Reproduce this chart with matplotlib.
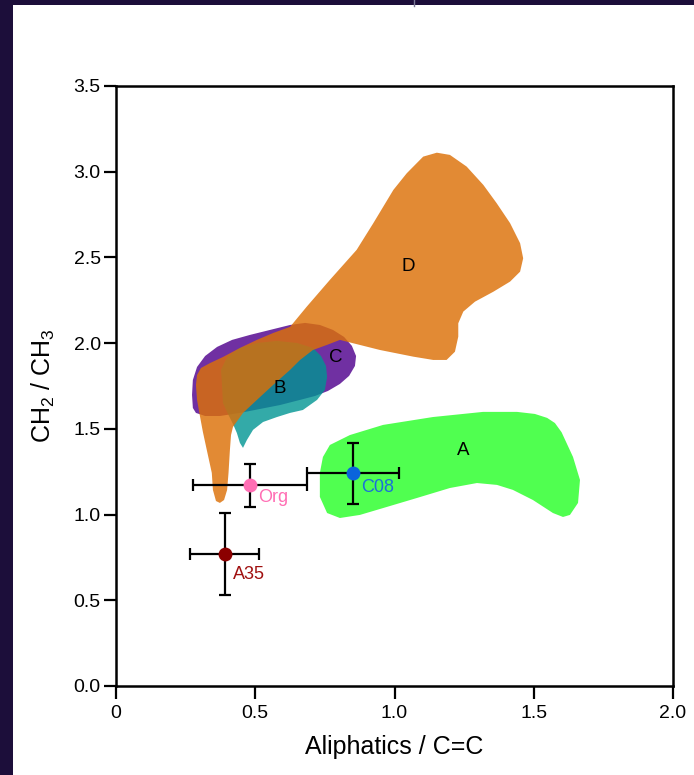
import matplotlib
matplotlib.use("Agg")
import matplotlib.pyplot as plt
from matplotlib.patches import Polygon, Rectangle
from matplotlib.lines import Line2D

# Region outlines (Aliphatics / C=C, CH2 / CH3)
region_a_x = [0.732, 0.743, 0.768, 0.840, 0.959, 1.138, 1.318, 1.440, 1.504, 1.548,
              1.576, 1.600, 1.641, 1.666, 1.659, 1.630, 1.605, 1.569, 1.497, 1.425,
              1.368, 1.296, 1.199, 1.081, 0.959, 0.876, 0.804, 0.758, 0.732]
region_a_y = [1.243, 1.336, 1.406, 1.464, 1.523, 1.569, 1.599, 1.599, 1.587, 1.564,
              1.534, 1.480, 1.336, 1.202, 1.068, 0.998, 0.986, 1.009, 1.085, 1.144,
              1.173, 1.184, 1.155, 1.097, 1.038, 0.998, 0.980, 1.009, 1.103]

region_c_x = [0.276, 0.273, 0.276, 0.291, 0.320, 0.363, 0.417, 0.481, 0.553, 0.625,
              0.679, 0.732, 0.779, 0.819, 0.847, 0.862, 0.858, 0.837, 0.804, 0.761,
              0.715, 0.661, 0.589, 0.517, 0.445, 0.373, 0.320, 0.287]
region_c_y = [1.622, 1.698, 1.785, 1.861, 1.925, 1.978, 2.019, 2.048, 2.077, 2.106,
              2.118, 2.106, 2.077, 2.036, 1.984, 1.925, 1.867, 1.809, 1.762, 1.721,
              1.692, 1.669, 1.639, 1.616, 1.593, 1.575, 1.575, 1.593]

region_b_x = [0.381, 0.377, 0.399, 0.445, 0.506, 0.578, 0.650, 0.707, 0.736, 0.754,
              0.758, 0.750, 0.722, 0.671, 0.625, 0.578, 0.528, 0.492, 0.470, 0.456,
              0.445, 0.434, 0.420, 0.402, 0.384]
region_b_y = [1.744, 1.844, 1.919, 1.972, 2.001, 2.013, 2.001, 1.972, 1.925, 1.867,
              1.803, 1.727, 1.669, 1.610, 1.593, 1.569, 1.540, 1.494, 1.435, 1.389,
              1.418, 1.476, 1.529, 1.587, 1.651]

region_d_x = [1.103, 1.152, 1.199, 1.259, 1.319, 1.367, 1.415, 1.451, 1.462, 1.451,
              1.415, 1.355, 1.289, 1.247, 1.229, 1.229, 1.217, 1.187, 1.139, 1.068,
              0.948, 0.828, 0.804, 0.758, 0.707, 0.661, 0.625, 0.564, 0.506, 0.456,
              0.420, 0.413, 0.409, 0.404, 0.399, 0.388, 0.373, 0.359, 0.348, 0.344,
              0.326, 0.312, 0.302, 0.291, 0.287, 0.291, 0.305, 0.338, 0.384, 0.445,
              0.506, 0.564, 0.625, 0.685, 0.768, 0.864, 0.924, 0.996, 1.044]
region_d_y = [3.088, 3.111, 3.098, 3.030, 2.923, 2.816, 2.700, 2.583, 2.495, 2.417,
              2.359, 2.300, 2.242, 2.184, 2.116, 2.038, 1.950, 1.902, 1.902, 1.921,
              1.960, 2.009, 2.019, 1.990, 1.960, 1.902, 1.844, 1.756, 1.669, 1.593,
              1.511, 1.464, 1.377, 1.243, 1.144, 1.085, 1.068, 1.079, 1.144, 1.243,
              1.377, 1.482, 1.569, 1.669, 1.756, 1.814, 1.855, 1.884, 1.919, 1.972,
              2.019, 2.059, 2.095, 2.213, 2.369, 2.544, 2.700, 2.894, 2.991]

region_names = ["A", "C", "B", "D"]
region_label_x = [1.246, 0.790, 0.589, 1.048]
region_label_y = [1.371, 1.919, 1.733, 2.445]

# Measured samples with error bars
point_names = ["Org", "C08", "A35"]
point_x = [0.48, 0.85, 0.39]
point_y = [1.17, 1.24, 0.77]
point_xerr = [0.205, 0.165, 0.125]
point_yerr = [0.125, 0.18, 0.24]

x_ticks = [0, 0.5, 1.0, 1.5, 2.0]
x_tick_labels = ["0", "0.5", "1.0", "1.5", "2.0"]
y_ticks = [0.0, 0.5, 1.0, 1.5, 2.0, 2.5, 3.0, 3.5]
y_tick_labels = ["0.0", "0.5", "1.0", "1.5", "2.0", "2.5", "3.0", "3.5"]


def draw_regions(ax):
    """
    Filled outlines for groups A-D, stacked so the overlaps blend like the original.
    """
    outlines = [
        (region_a_x, region_a_y, "#50ff50", 1.0),
        (region_c_x, region_c_y, "#7030a2", 1.0),
        (region_b_x, region_b_y, "#009592", 0.8),
        (region_d_x, region_d_y, "#dc7007", 0.82),
    ]
    for xs, ys, color, alpha in outlines:
        poly = Polygon(list(zip(xs, ys)), closed=True, facecolor=color,
                       edgecolor="none", alpha=alpha, zorder=1)
        ax.add_patch(poly)

    for name, lx, ly in zip(region_names, region_label_x, region_label_y):
        ax.text(lx, ly, name, fontsize=13.5, ha="center", va="center",
                color="black", zorder=3)


def draw_points(ax):
    """
    Sample means with their x/y error bars and coloured labels.
    """
    colors = ["#ff6eb4", "#0a64dc", "#8b0000"]
    label_colors = ["#ff6eb4", "#1a6fd8", "#a01010"]
    offsets = [(6, -9), (6, -10), (6, -15)]
    for i, name in enumerate(point_names):
        ax.errorbar(point_x[i], point_y[i], xerr=point_xerr[i], yerr=point_yerr[i],
                    fmt="none", ecolor="black", elinewidth=1.6, capsize=4,
                    capthick=1.6, zorder=4)
        ax.plot(point_x[i], point_y[i], "o", color=colors[i], markersize=10,
                markeredgewidth=0, zorder=5)
        ax.annotate(name, (point_x[i], point_y[i]), xytext=offsets[i],
                    textcoords="offset points", ha="left", va="center",
                    fontsize=13, color=label_colors[i], zorder=6)


def main():
    plt.rcParams["font.family"] = ["Liberation Sans", "DejaVu Sans"]
    plt.rcParams["mathtext.default"] = "regular"

    fig = plt.figure(figsize=(6.94, 7.75), dpi=100)
    fig.patch.set_facecolor("#1c0e3a")
    # white card behind the plot
    card = Rectangle((13 / 694, 0), 1 - 13 / 694, 1 - 5 / 775,
                     transform=fig.transFigure, facecolor="white",
                     edgecolor="none", zorder=-10)
    fig.add_artist(card)
    fig.add_artist(Line2D([414 / 694, 414 / 694], [1, 1 - 6 / 775],
                          transform=fig.transFigure, color="#7a7896", lw=1,
                          zorder=-9))

    ax = fig.add_axes([116 / 694, 1 - 686 / 775, (673 - 116) / 694, (686 - 86) / 775])
    ax.set_facecolor("white")

    draw_regions(ax)
    draw_points(ax)

    ax.set_xlim(0, 2.0)
    ax.set_ylim(0, 3.5)
    ax.set_xticks(x_ticks)
    ax.set_xticklabels(x_tick_labels)
    ax.set_yticks(y_ticks)
    ax.set_yticklabels(y_tick_labels)
    ax.tick_params(axis="both", direction="out", length=9, width=1.6,
                   labelsize=14, color="black")
    ax.tick_params(axis="x", pad=5)
    ax.tick_params(axis="y", pad=2)
    for spine in ax.spines.values():
        spine.set_linewidth(1.8)

    ax.set_xlabel("Aliphatics / C=C", fontsize=18, labelpad=9)
    ax.set_ylabel(r"CH$_2$ / CH$_3$", fontsize=18, labelpad=12)

    fig.savefig("out.png", dpi=100, facecolor=fig.get_facecolor())


if __name__ == "__main__":
    main()
